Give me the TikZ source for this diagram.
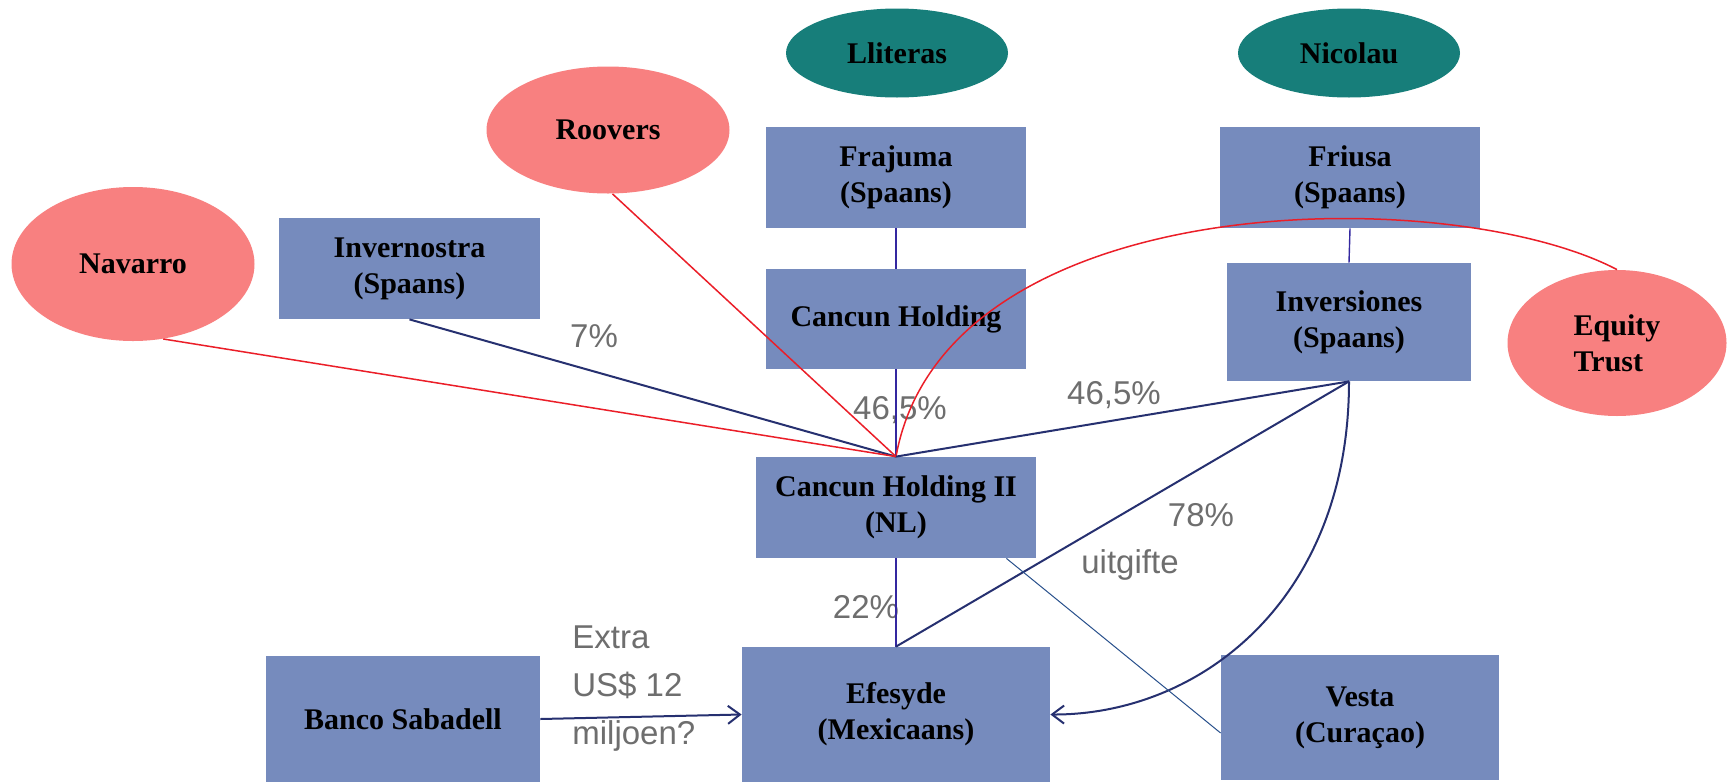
\documentclass[tikz,border=0pt]{standalone}
\usepackage{fontspec}
\setmainfont{Liberation Serif}
\newfontfamily\lblfont{Liberation Sans}
\usetikzlibrary{shapes.geometric,arrows.meta,calc}
\definecolor{boxblue}{RGB}{118,139,189}
\definecolor{pinkred}{RGB}{248,128,128}
\definecolor{tealc}{RGB}{23,126,122}
\definecolor{navyc}{RGB}{38,48,112}
\definecolor{vblue}{RGB}{52,40,160}
\definecolor{thinblue}{RGB}{40,80,140}
\definecolor{redc}{RGB}{235,30,40}
\definecolor{lblgray}{RGB}{110,110,110}
\tikzset{
  box/.style={rectangle, fill=boxblue, inner sep=0pt, align=center, font=\bfseries\fontsize{15}{18}\selectfont},
  pinkell/.style={ellipse, fill=pinkred, inner sep=0pt, align=left, font=\bfseries\fontsize{15}{18}\selectfont},
  tealell/.style={ellipse, fill=tealc, inner sep=0pt, align=center, font=\bfseries\fontsize{15}{18}\selectfont},
  lbl/.style={font=\lblfont\fontsize{16.5}{24}\selectfont, text=lblgray, inner sep=0pt},
  navyline/.style={draw=navyc, line width=1pt},
  vline/.style={draw=vblue, line width=0.7pt},
  redline/.style={draw=redc, line width=0.75pt},
  thinline/.style={draw=thinblue, line width=0.5pt},
  barb/.style={-{Straight Barb[length=6pt,width=9pt,line width=1pt]}}
}
\begin{document}
\begin{tikzpicture}[x=0.5pt,y=-0.5pt]
\useasboundingbox[fill=white] (0,0) rectangle (1729,782);
% ellipses
\node[tealell, minimum width=111pt, minimum height=44.5pt] (lliteras) at (897,53) {Lliteras};
\node[tealell, minimum width=111pt, minimum height=44.5pt] (nicolau) at (1349,53) {Nicolau};
\node[pinkell, minimum width=121.5pt, minimum height=63.5pt] (roovers) at (608,130) {Roovers};
\node[pinkell, minimum width=121.5pt, minimum height=77pt] (navarro) at (133,264) {Navarro};
\node[pinkell, minimum width=109.5pt, minimum height=73pt] (equity) at (1617,343) {Equity\\Trust};
% boxes
\node[box, minimum width=130.5pt, minimum height=50.5pt] (invernostra) at (409.5,268.5) {Invernostra\\(Spaans)};
\node[box, minimum width=130pt, minimum height=50.5pt] (frajuma) at (896,177.5) {Frajuma\\(Spaans)};
\node[box, minimum width=130pt, minimum height=50pt] (cancun) at (896,319) {Cancun Holding};
\node[box, minimum width=130pt, minimum height=50.5pt] (friusa) at (1350,177.5) {Friusa\\(Spaans)};
\node[box, minimum width=122pt, minimum height=59pt] (inversiones) at (1349,322) {Inversiones\\(Spaans)};
\node[box, minimum width=140pt, minimum height=50.5pt] (cancun2) at (896,507.5) {Cancun Holding II\\(NL)};
\node[box, minimum width=137pt, minimum height=63pt] (banco) at (403,719) {Banco Sabadell};
\node[box, minimum width=154pt, minimum height=67.5pt] (efesyde) at (896,714.5) {Efesyde\\(Mexicaans)};
\node[box, minimum width=139pt, minimum height=62.5pt] (vesta) at (1360,717.5) {Vesta\\(Curaçao)};
% labels
\node[lbl] (l7) at (594,336) {7\%};
\node[lbl] (l465a) at (900,410) {46,5\%};
\node[lbl] (l465b) at (1114,395) {46,5\%};
\node[lbl] (l78) at (1201,515) {78\%};
\node[lbl] (luit) at (1130,565) {uitgifte};
\node[lbl] (l22) at (866,607) {22\%};
\node[lbl, align=left, anchor=west] (lextra) at (572,689) {Extra\\US\$ 12\\miljoen?};
% connectors
\draw[vline] (frajuma.south) -- (cancun.north);
\draw[vline] (friusa.south) -- (inversiones.north);
\draw[vline] (cancun.south) -- (cancun2.north);
\draw[vline] (cancun2.south) -- (efesyde.north);
\draw[navyline] (invernostra.south) -- (cancun2.north);
\draw[redline] (navarro.-68) -- (cancun2.north);
\draw[redline] (roovers.-86) -- (cancun2.north);
\draw[redline] (cancun2.north) .. controls (945,185) and (1450,182) .. (equity.north);
\draw[navyline] (cancun2.north) -- (inversiones.south);
\draw[navyline] (efesyde.north) -- (inversiones.south);
\draw[navyline, barb] (inversiones.south) .. controls (1349,600) and (1200,715) .. (efesyde.east);
\draw[thinline] ([xshift=-15pt]cancun2.south east) -- ([yshift=-7.75pt]vesta.west);
\draw[navyline, barb] (banco.east) -- (efesyde.west);
\end{tikzpicture}
\end{document}
